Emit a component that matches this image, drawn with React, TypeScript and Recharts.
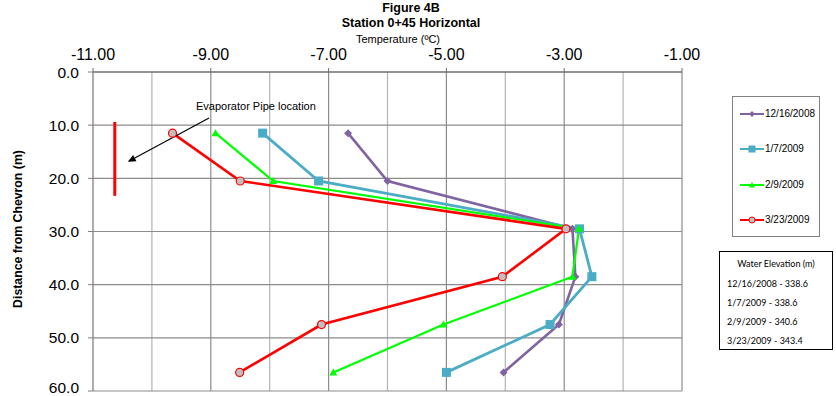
import React from 'react';
import { ComposedChart, Line, XAxis, YAxis, CartesianGrid, ReferenceLine } from 'recharts';

// distance from chevron (m) of each sensor
const depths = [11.5, 20.5, 29.5, 38.5, 47.5, 56.5];

// temperature (°C) per survey date
const temps1216 = [-6.67, -6.0, -2.86, -2.81, -3.09, -4.03];
const temps0107 = [-8.12, -7.17, -2.74, -2.53, -3.24, -5.0];
const temps0209 = [-8.92, -7.94, -2.75, -2.86, -5.05, -6.92];
const temps0323 = [-9.65, -8.5, -2.97, -4.05, -7.12, -8.51];

const xTicks = [-11, -9, -7, -5, -3, -1];
const xMinor = [-10, -8, -6, -4, -2];
const yTicks = [0, 10, 20, 30, 40, 50, 60];

const waterLabels = ['12/16/2008 - 338.6', '1/7/2009 - 338.6', '2/9/2009 - 340.6', '3/23/2009 - 343.4'];

const PURPLE = '#8064A2';
const TEAL = '#4BACC6';
const GREEN = '#00FF00';
const RED = '#FF0000';

const toRows = (temps: number[]) => temps.map((t, i) => ({ t, d: depths[i] }));

const diamond = (p: any) => {
  const { cx, cy, index } = p;
  if (cx == null || cy == null) return <g key={`pd${index}`} />;
  return <path key={`pd${index}`} d={`M${cx},${cy - 4}L${cx + 4},${cy}L${cx},${cy + 4}L${cx - 4},${cy}Z`} fill={PURPLE} />;
};

const square = (p: any) => {
  const { cx, cy, index } = p;
  if (cx == null || cy == null) return <g key={`ts${index}`} />;
  return <rect key={`ts${index}`} x={cx - 4.5} y={cy - 4.5} width={9} height={9} fill={TEAL} />;
};

const triangle = (p: any) => {
  const { cx, cy, index } = p;
  if (cx == null || cy == null) return <g key={`gt${index}`} />;
  return <path key={`gt${index}`} d={`M${cx},${cy - 4}L${cx + 4},${cy + 3}L${cx - 4},${cy + 3}Z`} fill={GREEN} />;
};

const circle = (p: any) => {
  const { cx, cy, index } = p;
  if (cx == null || cy == null) return <g key={`rc${index}`} />;
  return <circle key={`rc${index}`} cx={cx} cy={cy} r={4} fill="#C0C0C0" stroke={RED} strokeWidth={1.2} />;
};

const arrowShape = (p: any) => {
  const { x1, y1, x2, y2 } = p;
  const a = Math.atan2(y2 - y1, x2 - x1);
  const len = 8;
  const w = 3.5;
  const bx = x2 - len * Math.cos(a);
  const by = y2 - len * Math.sin(a);
  const lx = bx + w * Math.sin(a);
  const ly = by - w * Math.cos(a);
  const rx = bx - w * Math.sin(a);
  const ry = by + w * Math.cos(a);
  return (
    <g>
      <line x1={x1} y1={y1} x2={bx} y2={by} stroke="#000" strokeWidth={1.2} />
      <path d={`M${x2},${y2}L${lx},${ly}L${rx},${ry}Z`} fill="#000" />
    </g>
  );
};

const legendItems = [
  { label: '12/16/2008', color: PURPLE, mark: 'diamond' },
  { label: '1/7/2009', color: TEAL, mark: 'square' },
  { label: '2/9/2009', color: GREEN, mark: 'triangle' },
  { label: '3/23/2009', color: RED, mark: 'circle' },
];

function LegendMark({ color, mark }: { color: string; mark: string }) {
  return (
    <svg width={24} height={8} style={{ display: 'block' }}>
      <line x1={0} y1={4} x2={24} y2={4} stroke={color} strokeWidth={2} />
      {mark === 'diamond' && <path d="M12,1L15,4L12,7L9,4Z" fill={color} />}
      {mark === 'square' && <rect x={8.5} y={0.5} width={7} height={7} fill={color} />}
      {mark === 'triangle' && <path d="M12,1L15,6.5L9,6.5Z" fill={color} />}
      {mark === 'circle' && <circle cx={12} cy={4} r={3} fill="#C0C0C0" stroke={color} strokeWidth={1} />}
    </svg>
  );
}

export default function App() {
  const font = "'Liberation Sans', Arial, sans-serif";
  return (
    <div style={{ position: 'absolute', left: 0, top: 0, width: 836, height: 396, background: '#fff', fontFamily: font }}>
      <div style={{ position: 'absolute', left: 311, width: 200, top: 1, textAlign: 'center', fontWeight: 'bold', fontSize: 12.5, lineHeight: '15px' }}>
        Figure 4B
        <br />
        Station 0+45 Horizontal
      </div>
      <div style={{ position: 'absolute', left: 298, width: 200, top: 33, textAlign: 'center', fontSize: 11, lineHeight: '13px' }}>
        Temperature (ºC)
      </div>
      <div
        style={{
          position: 'absolute', left: 18, top: 229, width: 0, height: 0,
        }}
      >
        <div style={{ position: 'absolute', transform: 'translate(-50%, -50%) rotate(-90deg)', whiteSpace: 'nowrap', fontWeight: 'bold', fontSize: 12.3 }}>
          Distance from Chevron (m)
        </div>
      </div>

      <ComposedChart width={836} height={396} margin={{ top: 0, right: 154, bottom: 5, left: 0 }} style={{ position: 'absolute', left: 0, top: 0 }}>
        <CartesianGrid horizontal={false} verticalValues={xMinor} stroke="#B4B4B4" strokeWidth={1.2} />
        <CartesianGrid vertical={true} horizontalValues={[10, 20, 30, 40, 50, 60]} verticalValues={[-9, -7, -5, -3, -1]} stroke="#8C8C8C" strokeWidth={1.2} />
        <XAxis
          dataKey="t"
          type="number"
          orientation="top"
          domain={[-11, -1]}
          ticks={xTicks}
          tickFormatter={(v: number) => v.toFixed(2)}
          height={72}
          tickSize={4}
          tickMargin={8}
          axisLine={{ stroke: '#6E6E6E', strokeWidth: 1.3 }}
          tickLine={{ stroke: '#6E6E6E' }}
          tick={{ fill: '#000', fontSize: 16, fontFamily: font }}
          allowDuplicatedCategory={false}
        />
        <YAxis
          dataKey="d"
          type="number"
          reversed
          domain={[0, 60]}
          ticks={yTicks}
          tickFormatter={(v: number) => v.toFixed(1)}
          width={93}
          tickSize={5}
          tickMargin={9}
          axisLine={{ stroke: '#808080', strokeWidth: 1.3 }}
          tickLine={{ stroke: '#808080' }}
          tick={{ fill: '#000', fontSize: 15.5, fontFamily: font }}
        />
        <Line data={toRows(temps1216)} dataKey="d" stroke={PURPLE} strokeWidth={2.6} dot={diamond} isAnimationActive={false} />
        <Line data={toRows(temps0107)} dataKey="d" stroke={TEAL} strokeWidth={2.8} dot={square} isAnimationActive={false} />
        <Line data={toRows(temps0209)} dataKey="d" stroke={GREEN} strokeWidth={2.2} dot={triangle} isAnimationActive={false} />
        <Line data={toRows(temps0323)} dataKey="d" stroke={RED} strokeWidth={2.6} dot={circle} isAnimationActive={false} />
        <ReferenceLine segment={[{ x: -10.63, y: 9.4 }, { x: -10.63, y: 23.3 }]} stroke={RED} strokeWidth={3} ifOverflow="visible" />
        <ReferenceLine segment={[{ x: -9.03, y: 8.65 }, { x: -10.41, y: 16.9 }]} shape={arrowShape} ifOverflow="visible" />
      </ComposedChart>

      <div style={{ position: 'absolute', left: 196, top: 100, fontSize: 11, lineHeight: '13px', whiteSpace: 'nowrap' }}>
        Evaporator Pipe location
      </div>

      <div style={{ position: 'absolute', left: 732, top: 96, width: 88, height: 141, border: '1px solid #808080', boxSizing: 'border-box' }}>
        {legendItems.map((it, i) => (
          <div key={it.label} style={{ position: 'absolute', left: 7, top: 11 + i * 35.3, display: 'flex', alignItems: 'center', fontSize: 10, lineHeight: '12px' }}>
            <LegendMark color={it.color} mark={it.mark} />
            <span style={{ marginLeft: 1 }}>{it.label}</span>
          </div>
        ))}
      </div>

      <div style={{ position: 'absolute', left: 719, top: 251, width: 114, height: 99, border: '1px solid #000', boxSizing: 'border-box', fontFamily: "Lato, 'Open Sans', sans-serif", fontSize: 9 }}>
        <div style={{ position: 'absolute', left: 0, width: 112, top: 6, textAlign: 'center' }}>Water Elevation (m)</div>
        {waterLabels.map((s, i) => (
          <div key={s} style={{ position: 'absolute', left: 7, top: 26 + i * 19 }}>{s}</div>
        ))}
      </div>
    </div>
  );
}
